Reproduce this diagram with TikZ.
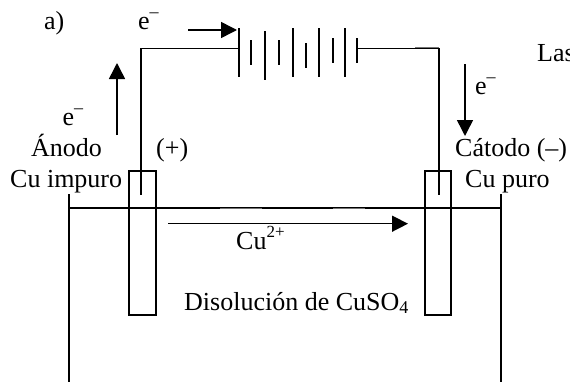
\documentclass[tikz,border=0pt]{standalone}
\usepackage{fontspec}
\setmainfont{Liberation Serif}
\usetikzlibrary{arrows.meta}
\newcommand{\emin}{e\raisebox{12pt}{\fontsize{18}{18}\selectfont –}}
\tikzset{
  wire/.style={line width=1.5pt,black},
  thin box/.style={draw=black,line width=1.2pt},
  flow/.style={line width=1.5pt,-{Triangle[length=16pt,width=16pt]}},
  lbl/.style={inner sep=0pt,font=\fontsize{26}{28}\selectfont},
  ghost/.style={line width=0.9pt,black!55},
}
\begin{document}
\begin{tikzpicture}[x=1pt,y=-1pt]
\useasboundingbox (0,0) rectangle (570,383);
\clip (0,0) rectangle (570,383);
\fill[white] (0,0) rectangle (570,383);
% electrodes and tank
\node[thin box,minimum width=27pt,minimum height=144pt,inner sep=0pt] (anode) at (142.5,243) {};
\node[thin box,minimum width=26pt,minimum height=144pt,inner sep=0pt] (cathode) at (438,243) {};
\coordinate (tl) at (69,194); \coordinate (tb) at (69,382);
\coordinate (tr) at (501,194); \coordinate (trb) at (501,382);
\coordinate (sl) at (69,208); \coordinate (sr) at (501,208);
\draw[wire] (tl) -- (tb);
\draw[wire] (tr) -- (trb);
\draw[wire] (sl) -- (sr);
\coordinate (g1a) at (220,208.8); \coordinate (g1b) at (262,208.8);
\coordinate (g2a) at (333,208.8); \coordinate (g2b) at (365,208.8);
\coordinate (g3a) at (415,47.8); \coordinate (g3b) at (439,47.8);
\draw[ghost] (g1a) -- (g1b);
\draw[ghost] (g2a) -- (g2b);
\draw[ghost] (g3a) -- (g3b);
% battery
\foreach \n/\x/\a/\b in {p1/239/28/77,p2/251/40/65,p3/265/31/80,p4/279/40/65,p5/293/28/77,p6/306/43/68,p7/319/28/77,p8/333/38/63,p9/345/28/77,p10/357/38/63}{
  \coordinate (\n a) at (\x,\a);
  \coordinate (\n b) at (\x,\b);
  \draw[wire] (\n a) -- (\n b);
}
\coordinate (lw) at (239,48.7);
\coordinate (rw) at (357,48.7);
\coordinate (lc) at (141,48.7);
\coordinate (rc) at (439,48.7);
\coordinate (le) at (141,195);
\coordinate (re) at (439,195);
\draw[wire] (lw) -- (lc) -- (le);
\draw[wire] (rw) -- (rc) -- (re);
% arrows
\coordinate (a1s) at (188,30); \coordinate (a1e) at (237,30);
\coordinate (a2s) at (117,135); \coordinate (a2e) at (117,63);
\coordinate (a3s) at (465,64); \coordinate (a3e) at (465,136);
\coordinate (a4s) at (168,223.7); \coordinate (a4e) at (408,223.7);
\draw[flow] (a1s) -- (a1e);
\draw[flow] (a2s) -- (a2e);
\draw[flow] (a3s) -- (a3e);
\draw[flow] (a4s) -- (a4e);
% labels
\node[lbl,anchor=base west] (ta) at (44,29) {a)};
\node[lbl,anchor=base west] (e1) at (138,29) {\emin};
\node[lbl,anchor=base west] (las) at (537,61) {Las};
\node[lbl,anchor=base west] (e2) at (475,94) {\emin};
\node[lbl,anchor=base west] (e3) at (62.5,125) {\emin};
\node[lbl,anchor=base west] (anodo) at (31,156.5) {Ánodo};
\node[lbl,anchor=base west] (plus) at (156,156.5) {(+)};
\node[lbl,anchor=base west] (catodo) at (455,156.5) {Cátodo (–)};
\node[lbl,anchor=base west] (cui) at (10,187) {Cu impuro};
\node[lbl,anchor=base west] (cup) at (465,187) {Cu puro};
\node[lbl,anchor=base west] (cu2) at (236,249) {Cu\raisebox{12pt}{\fontsize{17}{17}\selectfont 2+}};
\node[lbl,anchor=base west] (dis) at (184,310) {Disolución de CuSO\raisebox{-3pt}{\fontsize{18}{18}\selectfont 4}};
\end{tikzpicture}
\end{document}
